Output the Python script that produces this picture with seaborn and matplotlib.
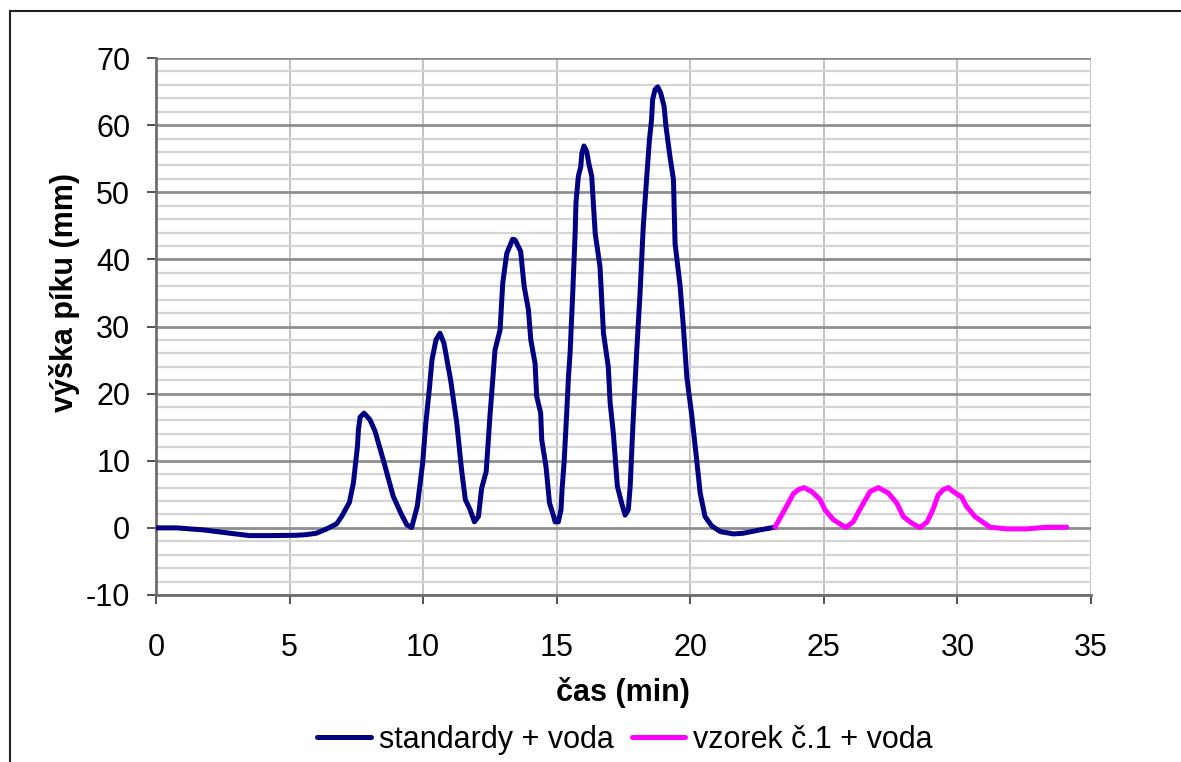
import matplotlib
matplotlib.use("Agg")
import matplotlib.pyplot as plt
import matplotlib.patches as mpatches
from matplotlib.ticker import MultipleLocator
import seaborn as sns
import pandas as pd

# --- data ---
std_time = [0, 0.77, 1.77, 2.77, 3.5, 4.3, 5.27, 5.64, 6.0, 6.39, 6.76, 6.95, 7.24, 7.39,
            7.54, 7.58, 7.64, 7.79, 8.01, 8.2, 8.51, 8.88, 9.2, 9.39, 9.57, 9.78, 9.98,
            10.1, 10.23, 10.33, 10.48, 10.63, 10.78, 11.03, 11.26, 11.44, 11.58, 11.76,
            11.92, 12.07, 12.19, 12.36, 12.5, 12.69, 12.88, 12.98, 13.13, 13.35, 13.44,
            13.65, 13.78, 13.94, 14.03, 14.19, 14.25, 14.4, 14.44, 14.6, 14.73, 14.85,
            14.94, 15.06, 15.16, 15.2, 15.28, 15.38, 15.44, 15.5, 15.6, 15.69, 15.72,
            15.81, 15.9, 15.94, 16.02, 16.12, 16.2, 16.31, 16.44, 16.62, 16.75, 16.93,
            17.0, 17.12, 17.27, 17.43, 17.56, 17.68, 17.75, 17.85, 17.99, 18.12, 18.24,
            18.39, 18.47, 18.55, 18.59, 18.68, 18.78, 18.89, 19.02, 19.09, 19.24, 19.37,
            19.43, 19.62, 19.74, 19.87, 20.06, 20.24, 20.37, 20.55, 20.8, 21.12, 21.61,
            21.98, 22.61, 23.17]
std_height = [0, 0, -0.3, -0.8, -1.15, -1.15, -1.1, -1.0, -0.8, -0.15, 0.6, 1.7, 3.8, 6.7,
              12.1, 14.7, 16.5, 17.1, 16.1, 14.4, 10.1, 4.7, 1.9, 0.45, 0.05, 3.2, 9.6,
              15.6, 20.6, 25, 28, 29, 27.5, 22, 15.6, 8.6, 4.2, 2.7,
              0.9, 1.7, 5.9, 8.4, 16.6, 26.5, 29.5, 36.5, 40.9, 43, 42.9,
              41.2, 36, 32.5, 28, 24.5, 19.6, 17.1, 13.1, 9.1, 3.7, 2.2,
              0.9, 0.9, 2.7, 5.7, 10, 17.6, 22.5, 26, 35, 43.9, 48.4,
              52.4, 53.8, 55.8, 56.9, 56.1, 54.3, 52.4, 43.9, 38.9, 29, 24,
              18.6, 14.1, 6.2, 3.7, 1.9, 2.7, 6.2, 15.1, 26, 35, 44.9,
              53.4, 57.8, 60.8, 63.8, 65.3, 65.7, 64.8, 62.8, 59.8, 55.3, 51.9,
              42.4, 36, 30, 22.5, 16.6, 10.1, 5.2, 1.7, 0.3, -0.55, -0.9,
              -0.8, -0.3, 0.1]

smp_time = [23.17, 23.42, 23.67, 23.86, 24.05, 24.26, 24.55, 24.86, 25.04, 25.36, 25.82,
            26.1, 26.41, 26.73, 27.04, 27.41, 27.73, 27.97, 28.29, 28.6, 28.87, 29.1,
            29.28, 29.47, 29.66, 29.84, 30.16, 30.34, 30.65, 31.22, 31.85, 32.6, 33.34,
            34.09]
smp_height = [0.1, 1.9, 3.7, 5.1, 5.7, 6.0, 5.4, 4.2, 2.7, 1.2, 0.05,
              0.9, 3.2, 5.4, 6.0, 5.2, 3.7, 1.7, 0.7, 0.05, 0.9, 2.9,
              4.9, 5.7, 6.0, 5.4, 4.6, 3.2, 1.7, 0.1, -0.15, -0.15, 0.1,
              0.1]

series_names = ["standardy + voda", "vzorek č.1 + voda"]
series_colors = ["#000080", "#FF00FF"]
x_label = "čas (min)"
y_label = "výška píku (mm)"

df = pd.concat([
    pd.DataFrame({"t": std_time, "h": std_height, "s": series_names[0]}),
    pd.DataFrame({"t": smp_time, "h": smp_height, "s": series_names[1]}),
], ignore_index=True)

sns.set_style("white")
plt.rcParams["font.family"] = ["Liberation Sans", "DejaVu Sans"]
plt.rcParams["axes.unicode_minus"] = False
plt.rcParams["text.color"] = "black"
plt.rcParams["axes.labelcolor"] = "black"

FS = 22
LW = 3.6

fig = plt.figure(figsize=(11.81, 7.62), dpi=100)
ax = fig.add_axes([156 / 1181, 1 - 595 / 762, 935 / 1181, 537 / 762])

sns.lineplot(data=df, x="t", y="h", hue="s", palette=dict(zip(series_names, series_colors)),
             sort=False, estimator=None, linewidth=LW, ax=ax, legend=False, zorder=5)

ax.set_xlim(0, 35)
ax.set_ylim(-10, 70)
ax.xaxis.set_major_locator(MultipleLocator(5))
ax.yaxis.set_major_locator(MultipleLocator(10))
ax.yaxis.set_minor_locator(MultipleLocator(2))

ax.grid(False)
ax.set_axisbelow(True)
ax.yaxis.grid(True, which="minor", color="#d4d4d4", linewidth=1.6)
ax.yaxis.grid(True, which="major", color="#8e8e8e", linewidth=2.0)
ax.xaxis.grid(True, which="major", color="#b8b8b8", linewidth=1.2)

for side in ["top", "right"]:
    ax.spines[side].set_visible(False)
for side in ["left", "bottom"]:
    ax.spines[side].set_color("#6e6e6e")
    ax.spines[side].set_linewidth(2.0)

ax.tick_params(axis="both", which="major", direction="out", length=6.5, width=1.2,
               color="#333333", labelsize=FS, labelcolor="black")
ax.tick_params(axis="y", which="minor", length=0)
ax.tick_params(axis="x", which="major", pad=21)
ax.tick_params(axis="y", which="major", pad=12)
ax.tick_params(left=True, bottom=True)

ax.set_xlabel(x_label, fontsize=FS, fontweight="bold")
ax.set_ylabel(y_label, fontsize=FS, fontweight="bold")
ax.xaxis.set_label_coords(0.4995, -0.153)
ax.yaxis.set_label_coords(-0.081, 0.564)

handles = [plt.Line2D([], [], color=c, linewidth=LW) for c in series_colors]
fig.legend(handles, series_names, loc="center", bbox_to_anchor=(625 / 1181, 1 - 740 / 762),
           ncol=2, frameon=False, fontsize=FS, handlelength=1.75, handletextpad=0.25,
           columnspacing=0.6, borderaxespad=0)

border = mpatches.Rectangle((10 / 1181, -0.2), 1.5, 1.2 - 11 / 762, transform=fig.transFigure,
                            fill=False, edgecolor="#222222", linewidth=1.5, clip_on=False)
fig.patches.append(border)

fig.savefig("out.png", dpi=100)
